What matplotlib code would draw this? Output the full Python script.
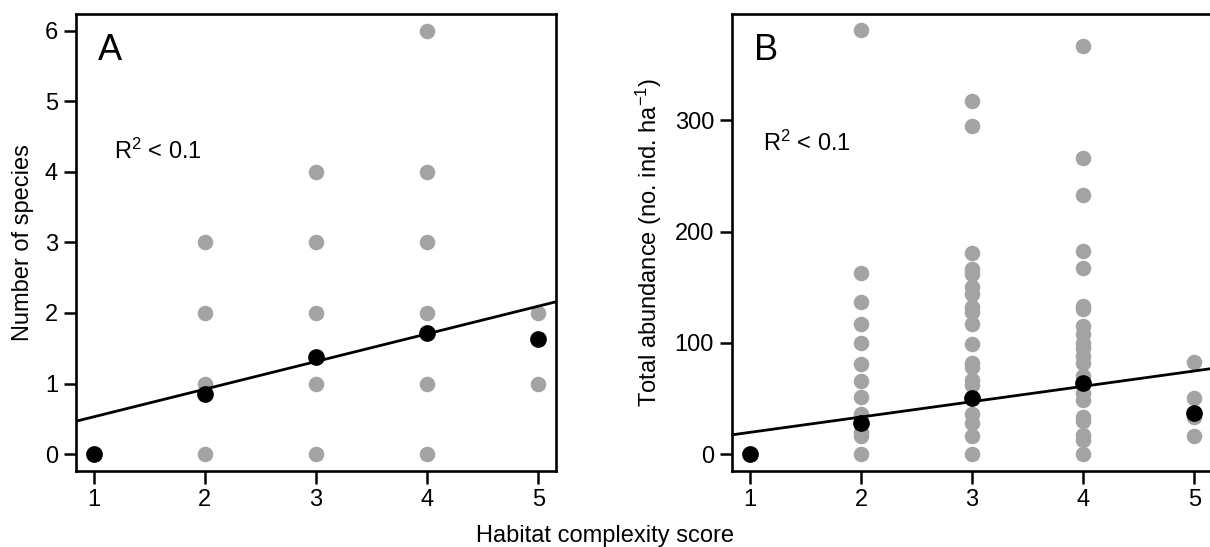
import matplotlib

matplotlib.use("Agg")

import matplotlib.pyplot as plt

plt.rcParams["font.family"] = ["Liberation Sans", "DejaVu Sans"]
plt.rcParams["mathtext.fontset"] = "custom"
plt.rcParams["mathtext.rm"] = "Liberation Sans"
plt.rcParams["mathtext.default"] = "regular"

SCORES = [1, 2, 3, 4, 5]

# panel A: number of species per site, grouped by habitat complexity score
SPECIES_BY_SCORE = {
    1: [0],
    2: [0, 1, 2, 3],
    3: [0, 1, 2, 3, 4],
    4: [0, 1, 2, 3, 4, 6],
    5: [1, 2],
}
SPECIES_MEAN = [0, 0.85, 1.37, 1.72, 1.63]
SPECIES_FIT = (0.136, 0.392)  # intercept, slope

# panel B: total abundance (ind. per ha)
ABUND_BY_SCORE = {
    1: [0],
    2: [0, 16, 20, 36, 51, 66, 81, 100, 117, 137, 163, 381],
    3: [0, 16, 28, 36, 50, 62, 67, 78, 82, 99, 117, 128, 132, 144, 150, 162, 166, 181, 295, 317],
    4: [0, 13, 17, 30, 33, 49, 55, 70, 82, 88, 95, 100, 108, 115, 130, 133, 167, 183, 233, 266, 367],
    5: [16, 33, 50, 83],
}
ABUND_MEAN = [0, 28, 50, 64, 37]
ABUND_FIT = (5.7, 13.8)

GREY = "#a3a3a3"
FS = 17


def draw_panel(ax, by_score, means, fit, ylim, yticks, letter, r2_pos, ylabel):
    for score in SCORES:
        vals = by_score[score]
        ax.scatter([score] * len(vals), vals, s=125, color=GREY, linewidths=0, zorder=2)
    ax.axline((0, fit[0]), slope=fit[1], color="black", lw=2.0, zorder=3)
    ax.scatter(SCORES, means, s=145, color="black", linewidths=0, zorder=4)
    ax.set_xlim(0.84, 5.16)
    ax.set_ylim(*ylim)
    ax.set_xticks(SCORES)
    ax.set_yticks(yticks)
    ax.tick_params(direction="out", length=9, width=1.8, pad=4, labelsize=FS)
    for sp in ax.spines.values():
        sp.set_linewidth(1.9)
    ax.text(0.046, 0.92, letter, transform=ax.transAxes, fontsize=26, va="center", ha="left")
    ax.text(r2_pos[0], r2_pos[1], "R$^2$ < 0.1", transform=ax.transAxes, fontsize=FS,
            va="center", ha="left")
    ax.set_ylabel(ylabel, fontsize=FS, labelpad=8)


fig = plt.figure(figsize=(12.1, 5.47), dpi=100)
ax_a = fig.add_axes([0.0628, 0.139, 0.3967, 0.8355])
ax_b = fig.add_axes([0.605, 0.139, 0.3967, 0.8355])

draw_panel(ax_a, SPECIES_BY_SCORE, SPECIES_MEAN, SPECIES_FIT, (-0.24, 6.24),
           [0, 1, 2, 3, 4, 5, 6], "A", (0.08, 0.70), "Number of species")
draw_panel(ax_b, ABUND_BY_SCORE, ABUND_MEAN, ABUND_FIT, (-15.2, 395.7),
           [0, 100, 200, 300], "B", (0.065, 0.718), "Total abundance (no. ind. ha$^{-1}$)")

fig.text(0.5, 0.0097, "Habitat complexity score", ha="center", va="baseline", fontsize=FS)

fig.savefig("out.png", dpi=100)
